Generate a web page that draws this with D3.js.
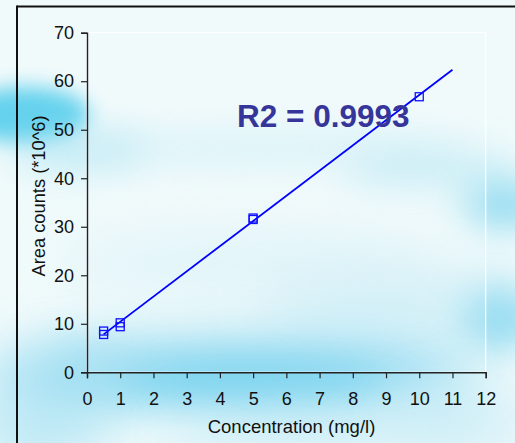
<!DOCTYPE html>
<html>
<head>
<meta charset="utf-8">
<script src="https://cdn.jsdelivr.net/npm/d3@7/dist/d3.min.js"></script>
<style>
html,body{margin:0;padding:0;background:#f0fafb;}
svg{display:block;}
text{font-family:"Liberation Sans",Arial,sans-serif;}
</style>
</head>
<body>
<svg id="chart" width="515" height="443"></svg>
<script>
// ---- data ----
const concentration = [0.5, 0.5, 1, 1, 5, 5, 10];
const areaCounts    = [8.5, 7.8, 10.2, 9.4, 31.8, 31.5, 56.8];
const xTicks = [0,1,2,3,4,5,6,7,8,9,10,11,12];
const yTicks = [0,10,20,30,40,50,60,70];
const trendRange = [0.5, 11];
const r2Label = "R2 = 0.9993";
const xTitle = "Concentration (mg/l)";
const yTitle = "Area counts (*10^6)";

const W = 515, H = 443;
const m = {left: 87, top: 32.7, right: 515 - 485.7, bottom: 443 - 372.3};
const svg = d3.select("#chart");

// ---- background clouds ----
const defs = svg.append("defs");
[["b1",10],["b2",18],["b3",26]].forEach(([id,sd])=>{
  defs.append("filter").attr("id",id).attr("x","-100%").attr("y","-100%").attr("width","300%").attr("height","300%")
    .append("feGaussianBlur").attr("stdDeviation", sd);
});

svg.append("rect").attr("width",W).attr("height",H).attr("fill","#f0fafb");
const clouds = svg.append("g");
const blobs = [
  // cx, cy, rx, ry, color, opacity, filter
  [25,115,65,28,"#55cdec",0.9,"b1"],
  [80,150,70,20,"#9adff1",0.55,"b2"],
  [270,148,210,14,"#c4ebf6",0.7,"b2"],
  [430,170,90,18,"#aae3f3",0.6,"b2"],
  [505,205,45,22,"#80d5ee",0.85,"b2"],
  [400,300,140,30,"#b8e6f4",0.65,"b3"],
  [500,320,40,30,"#84d6ef",0.8,"b2"],
  [260,370,220,34,"#84d5ef",0.95,"b3"],
  [250,380,140,16,"#6acfee",0.85,"b2"],
  [60,380,80,34,"#98dcf1",0.8,"b3"],
  [40,432,70,28,"#a6e1f3",0.75,"b3"],
  [320,428,160,20,"#b5e6f4",0.7,"b3"],
  [250,265,190,34,"#d3eff8",0.6,"b3"],
  [470,420,70,28,"#c0e9f5",0.65,"b3"]
];
clouds.selectAll("ellipse").data(blobs).join("ellipse")
  .attr("cx",d=>d[0]).attr("cy",d=>d[1]).attr("rx",d=>d[2]).attr("ry",d=>d[3])
  .attr("fill",d=>d[4]).attr("opacity",d=>d[5]).attr("filter",d=>`url(#${d[6]})`);

// frame
svg.append("line").attr("x1",17).attr("x2",W).attr("y1",6.5).attr("y2",6.5).attr("stroke","#111").attr("stroke-width",2);
svg.append("line").attr("x1",17).attr("x2",17).attr("y1",5.5).attr("y2",H).attr("stroke","#111").attr("stroke-width",2);

// ---- scales ----
const x = d3.scaleLinear().domain([0,12]).range([m.left, W - m.right]);
const y = d3.scaleLinear().domain([0,70]).range([H - m.bottom, m.top]);

// plot area
svg.append("rect").attr("x",x(0)).attr("y",y(70)).attr("width",x(12)-x(0)).attr("height",y(0)-y(70))
  .attr("fill","#ffffff").attr("fill-opacity",0.1).attr("stroke","#ffffff").attr("stroke-width",1.2);

// axes
const fs = 18;
const xAxis = svg.append("g").attr("transform",`translate(0,${y(0)})`)
  .call(d3.axisBottom(x).tickValues(xTicks).tickFormat(d3.format("d")).tickSizeOuter(0).tickSize(6).tickPadding(14));
const yAxis = svg.append("g").attr("transform",`translate(${x(0)},0)`)
  .call(d3.axisLeft(y).tickValues(yTicks).tickFormat(d3.format("d")).tickSizeOuter(0).tickSize(6).tickPadding(7));
[xAxis,yAxis].forEach(g=>{
  g.select(".domain").attr("stroke","#222").attr("stroke-width",1.4);
  g.selectAll(".tick line").attr("stroke","#222").attr("stroke-width",1.2);
  g.selectAll(".tick text").attr("fill","#111").style("font-size",fs+"px").style("font-family","'Liberation Sans',Arial,sans-serif");
});

// trend line (least squares from data)
const n = concentration.length;
const mx = d3.mean(concentration), my = d3.mean(areaCounts);
let sxy=0, sxx=0;
for(let i=0;i<n;i++){ sxy += (concentration[i]-mx)*(areaCounts[i]-my); sxx += (concentration[i]-mx)**2; }
const slope = sxy/sxx, icpt = my - slope*mx;
svg.append("line")
  .attr("x1",x(trendRange[0])).attr("y1",y(icpt+slope*trendRange[0]))
  .attr("x2",x(trendRange[1])).attr("y2",y(icpt+slope*trendRange[1]))
  .attr("stroke","#0000ff").attr("stroke-width",1.8);

// markers
const s = 8;
svg.append("g").selectAll("rect").data(concentration.map((c,i)=>[c,areaCounts[i]])).join("rect")
  .attr("x",d=>x(d[0])-s/2).attr("y",d=>y(d[1])-s/2).attr("width",s).attr("height",s)
  .attr("fill","none").attr("stroke","#1010ff").attr("stroke-width",1.3);

// R2 label
svg.append("text").attr("x",237).attr("y",126.5).text(r2Label)
  .attr("fill","#35359a").style("font-size","31.5px").style("font-weight","bold");

// titles
svg.append("text").attr("x",291.5).attr("y",432.7).attr("text-anchor","middle").text(xTitle)
  .attr("fill","#111").style("font-size","18.5px");
svg.append("text").attr("transform","translate(45,196) rotate(-90)").attr("text-anchor","middle").text(yTitle)
  .attr("fill","#111").style("font-size","18.3px");
</script>
</body>
</html>
